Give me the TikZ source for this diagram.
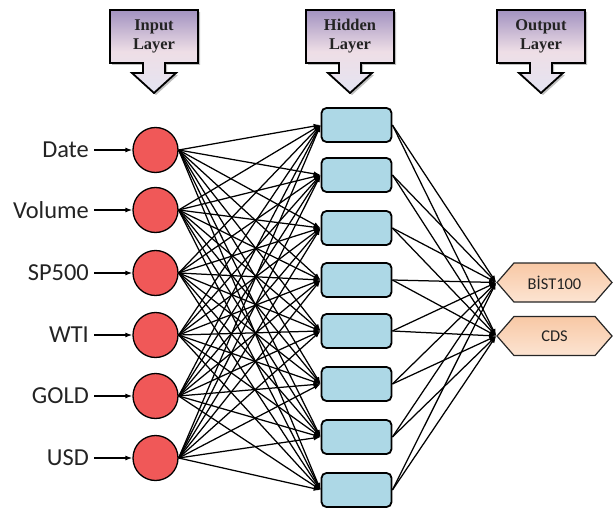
\documentclass[tikz,border=0pt]{standalone}
\usepackage{fontspec}
\setmainfont{Carlito}
\newfontfamily\hdrfont{Liberation Serif}
\usetikzlibrary{arrows.meta,shapes.symbols}
\definecolor{nodered}{RGB}{240,88,88}
\definecolor{boxblue}{RGB}{173,216,230}
\definecolor{hdrtop}{RGB}{162,146,192}
\definecolor{hdrmid}{RGB}{238,222,230}
\definecolor{hdrbot}{RGB}{228,228,242}
\definecolor{peachtop}{RGB}{248,200,165}
\definecolor{peachbot}{RGB}{252,228,210}
\definecolor{txtgray}{RGB}{35,35,35}
\begin{document}
\begin{tikzpicture}[x=1bp,y=-1bp,
  inlab/.style={font=\fontsize{24.5}{24.5}\selectfont, text=txtgray, anchor=east, inner sep=0pt},
  neuron/.style={circle, draw=black, line width=1.3bp, fill=nodered, minimum size=45bp, inner sep=0pt},
  hid/.style={draw=black, line width=1.8bp, rounded corners=5bp, fill=boxblue, minimum width=70bp, minimum height=34bp, inner sep=0pt},
  outnode/.style={signal, signal to=west and east, signal pointer angle=98, draw=black!85, line width=1.2bp, top color=peachtop, bottom color=peachbot, minimum width=115bp, minimum height=39bp, inner sep=0pt, font=\fontsize{16.5}{16.5}\selectfont, text=txtgray},
  conn/.style={-{Latex[length=7bp,width=5bp]}, line width=1.25bp},
  hdrbox/.style={draw=black, line width=1.8bp, top color=hdrtop, bottom color=hdrbot, middle color=hdrmid},
  hdrtxt/.style={font=\hdrfont\bfseries\fontsize{16.5}{19}\selectfont, align=center, text=txtgray},
  hdrshadow/.style={fill=black, opacity=0.25}
]
\useasboundingbox (0,0) rectangle (614,511);

% header arrows
\foreach \cx/\nm/\txt in {154/hin/{Input\\Layer}, 350/hhid/{Hidden\\Layer}, 541/hout/{Output\\Layer}}{
  \begin{scope}[shift={(\cx,0)}]
    \path[hdrshadow] (-42,12) -- (46,12) -- (46,65) -- (13,65) -- (13,75) -- (24,75) -- (2,95) -- (-20,75) -- (-9,75) -- (-9,65) -- (-42,65) -- cycle;
    \path[hdrbox] (-44,10) -- (44,10) -- (44,63) -- (11,63) -- (11,73) -- (22,73) -- (0,93) -- (-22,73) -- (-11,73) -- (-11,63) -- (-44,63) -- cycle;
    \node[hdrtxt] (\nm) at (0,36.5) {\txt};
  \end{scope}
}

% input neurons and labels
\foreach \i/\y/\t in {1/150/Date, 2/210/Volume, 3/273/SP500, 4/335/WTI, 5/396/GOLD, 6/458/USD}{
  \node[neuron] (c\i) at (155.5,\y) {};
  \node[inlab] (l\i) at (89,\y) {\t};
  \draw[conn, shorten <=5bp] (l\i.east) -- (c\i.west);
}

% hidden boxes
\foreach \j/\y in {1/125, 2/175, 3/228, 4/280, 5/331, 6/384, 7/437, 8/490}{
  \node[hid] (h\j) at (356.5,\y) {};
}

% output nodes
\node[outnode] (o1) at (554.5,282.5) {BİST100};
\node[outnode] (o2) at (554.5,336) {CDS};

% connectors
\foreach \i in {1,...,6}{
  \foreach \j in {1,...,8}{
    \draw[conn] (c\i.east) -- (h\j.west);
  }
}
\foreach \j in {1,...,8}{
  \draw[conn] (h\j.east) -- (o1.west);
  \draw[conn] (h\j.east) -- (o2.west);
}
\end{tikzpicture}
\end{document}
